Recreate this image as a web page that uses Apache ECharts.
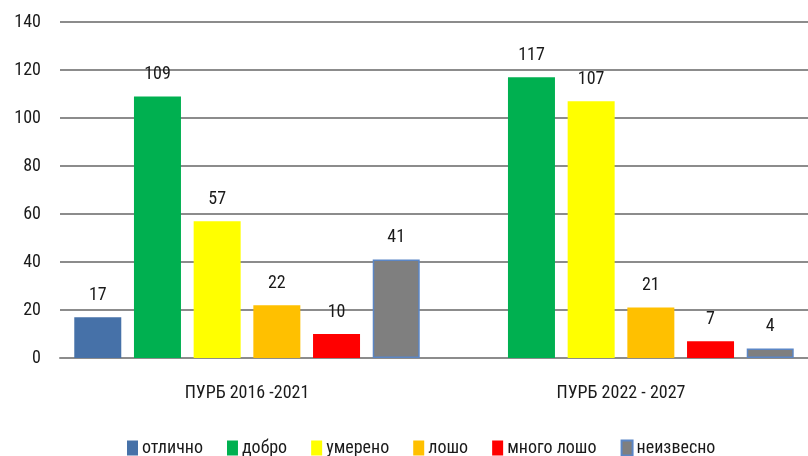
<!DOCTYPE html>
<html><head><meta charset="utf-8">
<script src="https://cdn.jsdelivr.net/npm/echarts@6/dist/echarts.min.js"></script>
<style>html,body{margin:0;padding:0;background:#fff}#c{width:808px;height:456px}</style>
</head><body><div id="c"></div>
<script>
const categories = ['ПУРБ 2016 -2021', 'ПУРБ 2022 - 2027'];
const seriesNames = ['отлично', 'добро', 'умерено', 'лошо', 'много лошо', 'неизвесно'];
const otlichno = [17, '-'];
const dobro = [109, 117];
const umereno = [57, 107];
const losho = [22, 21];
const mnogoLosho = [10, 7];
const neizvestno = [41, 4];
const yTicks = [0, 20, 40, 60, 80, 100, 120, 140];

const values = [otlichno, dobro, umereno, losho, mnogoLosho, neizvestno];
const colors = ['#4671A8', '#00B050', '#FFFF00', '#FFC000', '#FF0000', '#7F7F7F'];
const borders = ['#4671A8', '#00B050', '#FFFF00', '#FFC000', '#FF0000', '#5B86C5'];
const FONT = '"Roboto Condensed", "Noto Sans", sans-serif';

const chart = echarts.init(document.getElementById('c'), null, {renderer: 'canvas'});
chart.setOption({
  animation: false,
  textStyle: {fontFamily: FONT},
  grid: {left: 60, right: 0, top: 22, bottom: 98, containLabel: false},
  legend: {
    bottom: -6, left: 122, itemWidth: 11, itemHeight: 15, itemGap: 24,
    icon: 'rect',
    textStyle: {fontFamily: FONT, fontSize: 18, color: '#1a1a1a', padding: [0, 0, 0, -1]},
    data: seriesNames
  },
  xAxis: {
    type: 'category', data: categories,
    axisLine: {show: true, lineStyle: {color: '#8c8c8c', width: 2}},
    axisTick: {show: false},
    axisLabel: {fontFamily: FONT, fontSize: 18, color: '#1a1a1a', margin: 26}
  },
  yAxis: {
    type: 'value', min: yTicks[0], max: yTicks[yTicks.length - 1], interval: 20,
    axisLine: {show: false}, axisTick: {show: false},
    axisLabel: {fontFamily: FONT, fontSize: 18, color: '#1a1a1a', margin: 19},
    splitLine: {lineStyle: {color: '#8c8c8c', width: 2}}
  },
  series: seriesNames.map((n, i) => ({
    name: n, type: 'bar', data: values[i],
    barWidth: 47, barGap: '27%',
    itemStyle: {color: colors[i], borderColor: borders[i], borderWidth: i === 5 ? 1.5 : 0},
    label: {show: true, position: 'top', distance: 13, fontFamily: FONT, fontSize: 18, color: '#1a1a1a'}
  }))
});
</script></body></html>
